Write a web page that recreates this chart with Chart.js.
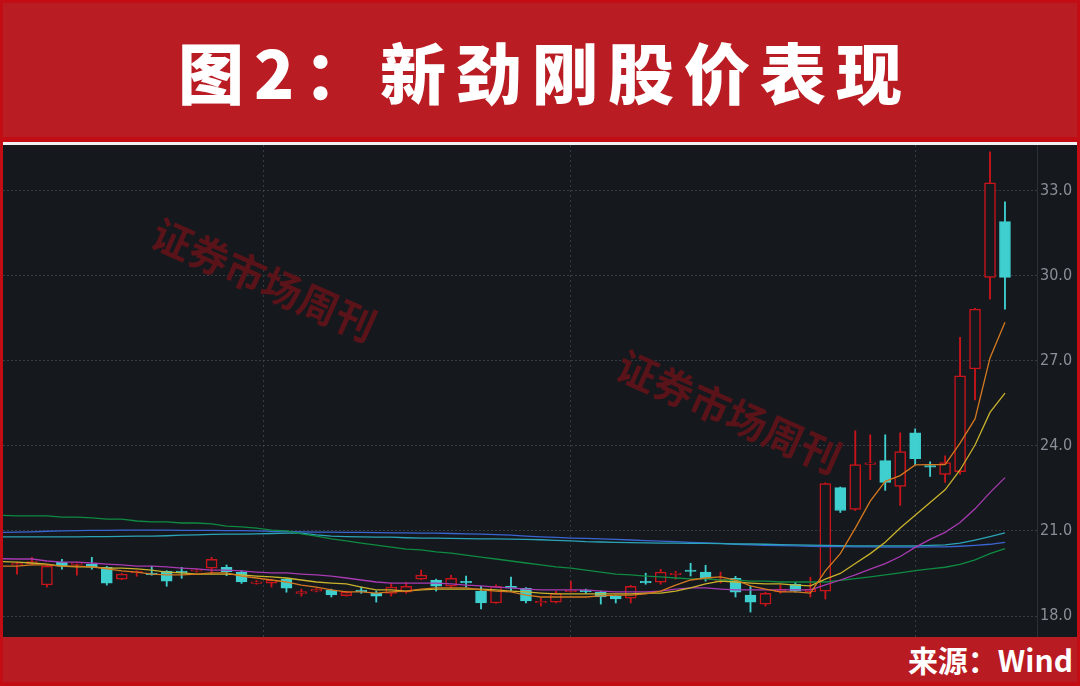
<!DOCTYPE html>
<html>
<head>
<meta charset="utf-8">
<script src="https://cdn.jsdelivr.net/npm/chart.js@4.4.1/dist/chart.umd.min.js"></script>
<style>
html,body{margin:0;padding:0;}
body{width:1080px;height:686px;background:#c20d14;position:relative;overflow:hidden;font-family:"Noto Sans CJK SC",sans-serif;}
#hdr{position:absolute;left:3px;top:3px;width:1074px;height:134px;background:#b91c22;}
#title{position:absolute;left:0;top:3px;width:1080px;height:134px;line-height:134px;text-align:center;color:#fff;font-size:66px;font-weight:900;letter-spacing:10px;padding-left:10px;box-sizing:border-box;white-space:nowrap;}
#wline{position:absolute;left:3px;top:141.5px;width:1074px;height:3px;background:#f2f2f2;}
#chartbox{position:absolute;left:3px;top:145px;width:1074px;height:492px;background:#15181d;}
#ftr{position:absolute;left:3px;top:637px;width:1074px;height:45px;background:#b81b21;}
#src{position:absolute;right:7px;top:637px;height:45px;line-height:45px;color:#fff;font-size:30px;font-weight:700;white-space:nowrap;}
</style>
</head>
<body>
<div id="hdr"></div>
<div id="title">图2：新劲刚股价表现</div>
<div id="wline"></div>
<div id="chartbox"><canvas id="c"></canvas></div>
<div id="ftr"></div>
<div id="src">来源：Wind</div>
<script>
// ---- data (day 0 is the partially hidden day at the left edge) ----
const openP  = [null,
  19.80,19.85,19.10,19.90,19.82,19.83,19.72,19.30,19.52,19.50,
  19.58,19.55,19.58,19.69,19.72,19.55,19.15,19.16,19.30,18.80,
  18.88,18.91,18.72,18.90,18.80,18.80,18.84,19.30,19.26,19.05,
  19.20,18.88,18.46,19.05,18.98,18.46,18.49,18.86,18.90,18.84,
  18.70,18.63,19.20,19.19,19.46,19.60,19.55,19.20,19.33,18.74,
  18.42,18.85,19.12,18.86,18.88,22.53,21.76,23.35,23.48,22.57,
  24.46,23.30,22.99,23.09,26.71,29.94,31.91];
const highP  = [null,
  19.90,20.07,19.80,20.00,19.90,20.07,19.75,19.50,19.60,19.76,
  19.60,19.72,19.65,20.07,19.80,19.60,19.25,19.30,19.32,18.95,
  18.98,18.95,18.88,19.02,18.88,19.16,19.19,19.62,19.30,19.44,
  19.41,19.05,19.10,19.37,19.00,18.63,18.88,19.23,18.95,18.88,
  18.72,19.08,19.51,19.65,19.58,19.86,19.79,19.55,19.40,19.05,
  18.84,19.10,19.19,19.37,22.70,22.55,24.53,24.39,24.39,24.46,
  24.60,23.44,23.65,27.83,28.85,34.37,32.61];
const lowP   = [null,
  19.48,19.80,19.02,19.65,19.44,19.65,19.09,19.28,19.40,19.44,
  19.05,19.33,19.55,19.48,19.42,19.15,19.12,19.02,18.84,18.70,
  18.85,18.67,18.70,18.80,18.49,18.70,18.80,19.28,18.88,19.00,
  19.02,18.25,18.44,18.88,18.46,18.35,18.46,18.84,18.80,18.42,
  18.46,18.46,19.12,19.12,19.30,19.41,19.23,19.16,18.67,18.14,
  18.35,18.80,18.84,18.67,18.60,21.65,21.72,22.81,22.43,21.90,
  23.34,22.92,22.71,23.00,25.62,29.17,28.82];
const closeP = [null,
  19.84,19.92,19.76,19.76,19.84,19.72,19.16,19.48,19.56,19.46,
  19.23,19.53,19.62,20.00,19.56,19.20,19.20,19.26,18.98,18.86,
  18.95,18.74,18.84,18.86,18.70,19.02,19.05,19.44,19.05,19.33,
  19.17,18.46,19.05,18.98,18.53,18.52,18.80,18.90,18.86,18.67,
  18.60,19.05,19.17,19.55,19.50,19.57,19.33,19.30,18.84,18.49,
  18.80,18.95,18.88,18.95,22.67,21.72,23.34,23.38,22.71,23.80,
  23.55,23.25,23.41,26.47,28.82,33.28,29.94];

const ma5   = [19.76,
  19.76,19.80,19.80,19.76,19.76,19.73,19.66,19.59,19.55,19.48,
  19.45,19.45,19.48,19.52,19.52,19.41,19.34,19.27,19.20,19.09,
  19.02,18.92,18.85,18.85,18.81,18.85,18.88,18.95,18.99,18.99,
  18.99,18.92,18.88,18.85,18.74,18.67,18.67,18.67,18.67,18.71,
  18.74,18.74,18.78,18.88,19.09,19.27,19.34,19.38,19.27,19.06,
  18.95,18.85,18.85,18.81,19.59,20.20,21.10,22.05,22.75,22.95,
  23.33,23.34,23.34,24.10,24.95,27.10,28.36];
const ma10  = [19.92,
  19.90,19.87,19.83,19.76,19.73,19.73,19.69,19.69,19.66,19.62,
  19.55,19.52,19.48,19.48,19.48,19.45,19.41,19.38,19.34,19.27,
  19.20,19.16,19.13,19.02,18.92,18.92,18.88,18.92,18.95,18.95,
  18.95,18.95,18.92,18.88,18.85,18.81,18.78,18.78,18.78,18.78,
  18.78,18.78,18.81,18.81,18.88,18.99,19.13,19.23,19.20,19.16,
  19.13,19.13,19.09,19.06,19.30,19.50,19.85,20.20,20.60,21.10,
  21.55,22.00,22.45,23.15,24.03,25.18,25.86];
const ma20  = [20.02,
  20.01,20.01,19.94,19.90,19.90,19.87,19.83,19.80,19.76,19.76,
  19.73,19.69,19.66,19.62,19.62,19.59,19.55,19.52,19.52,19.48,
  19.45,19.41,19.34,19.27,19.20,19.16,19.16,19.16,19.16,19.13,
  19.09,19.06,19.02,18.99,18.95,18.92,18.92,18.92,18.92,18.88,
  18.85,18.85,18.85,18.88,18.95,18.99,18.99,18.95,18.92,18.92,
  18.92,18.92,18.92,18.92,19.10,19.27,19.45,19.65,19.85,20.10,
  20.42,20.70,20.95,21.30,21.78,22.35,22.88];
const ma60  = [21.55,
  21.53,21.53,21.53,21.49,21.49,21.46,21.42,21.42,21.35,21.32,
  21.32,21.28,21.28,21.25,21.17,21.14,21.10,21.03,21.00,20.90,
  20.82,20.72,20.65,20.57,20.50,20.43,20.36,20.33,20.26,20.22,
  20.15,20.08,20.01,19.94,19.87,19.80,19.73,19.69,19.62,19.55,
  19.48,19.45,19.41,19.38,19.34,19.31,19.31,19.27,19.27,19.23,
  19.23,19.20,19.20,19.20,19.20,19.26,19.32,19.38,19.45,19.52,
  19.60,19.66,19.72,19.82,19.98,20.20,20.38];
const ma120 = [20.79,
  20.79,20.79,20.79,20.79,20.79,20.80,20.80,20.81,20.82,20.82,
  20.83,20.85,20.86,20.88,20.89,20.89,20.90,20.91,20.92,20.92,
  20.86,20.82,20.80,20.79,20.78,20.78,20.76,20.75,20.75,20.74,
  20.73,20.72,20.72,20.71,20.70,20.69,20.67,20.65,20.62,20.61,
  20.60,20.59,20.58,20.57,20.57,20.56,20.56,20.55,20.54,20.54,
  20.53,20.52,20.51,20.50,20.49,20.48,20.47,20.47,20.47,20.47,
  20.47,20.49,20.51,20.57,20.68,20.80,20.93];
const ma250 = [20.95,
  20.96,20.97,20.99,21.00,21.01,21.02,21.02,21.03,21.03,21.03,
  21.03,21.02,21.02,21.02,21.01,21.01,21.00,20.99,20.98,20.97,
  20.96,20.96,20.95,20.95,20.94,20.93,20.93,20.92,20.92,20.91,
  20.90,20.89,20.87,20.85,20.82,20.79,20.77,20.75,20.74,20.72,
  20.70,20.68,20.66,20.64,20.62,20.60,20.58,20.56,20.53,20.51,
  20.49,20.48,20.47,20.46,20.45,20.45,20.44,20.44,20.43,20.43,
  20.43,20.44,20.44,20.46,20.49,20.53,20.60];

const yTicks = [18, 21, 24, 27, 30, 33];
const monthLines = [17.45, 38.0, 61.05];
const watermarkText = '证券市场周刊';

// ---- styles ----
const RED = '#c8141b', CYAN = '#3fcfcf', BG = '#15181d';
const GRID = 'rgba(66,72,80,0.75)';
const days = openP.map((_, i) => i);
const isUp = i => closeP[i] >= openP[i];

const wickData = days.filter(i => openP[i] !== null).map(i => ({x: i, y: [lowP[i], highP[i]]}));
const bodyData = days.filter(i => openP[i] !== null).map(i => ({x: i, y: [Math.min(openP[i], closeP[i]), Math.max(openP[i], closeP[i])]}));

function lineDs(arr, color) {
  return {type: 'line', data: days.map(i => ({x: i, y: arr[i]})), borderColor: color, borderWidth: 1.3,
    pointRadius: 0, tension: 0, fill: false, order: 0};
}

const watermark = {
  id: 'watermark',
  beforeDatasetsDraw(chart) {
    const c = chart.ctx;
    const spots = [[261, 135], [726, 267]];
    c.save();
    c.font = 'bold 40px "Noto Sans CJK SC", sans-serif';
    c.fillStyle = '#5a1419';
    c.textAlign = 'center';
    c.textBaseline = 'middle';
    for (const [x, y] of spots) {
      c.save();
      c.translate(x, y);
      c.rotate(24 * Math.PI / 180);
      c.fillText(watermarkText, 0, 0);
      c.restore();
    }
    c.restore();
  }
};

new Chart(document.getElementById('c'), {
  type: 'bar',
  data: {
    datasets: [
      lineDs(ma5, '#d4791f'),
      lineDs(ma10, '#c9b22c'),
      lineDs(ma20, '#a83ab2'),
      lineDs(ma60, '#0f8a42'),
      lineDs(ma120, '#2ba3b6'),
      lineDs(ma250, '#3a66d2'),
      {
        type: 'bar', data: bodyData, order: 1, grouped: false, barThickness: 11, minBarLength: 1.5,
        borderSkipped: false,
        backgroundColor: ctx => isUp(ctx.raw.x) ? BG : CYAN,
        borderColor: ctx => isUp(ctx.raw.x) ? RED : CYAN,
        borderWidth: ctx => isUp(ctx.raw.x) ? 1.5 : 1
      },
      {
        type: 'bar', data: wickData, order: 2, grouped: false, barThickness: 1.2, minBarLength: 1,
        borderWidth: 0,
        backgroundColor: ctx => isUp(ctx.raw.x) ? RED : CYAN
      }
    ]
  },
  options: {
    responsive: true,
    maintainAspectRatio: false,
    animation: false,
    layout: {padding: 0},
    plugins: {legend: {display: false}, tooltip: {enabled: false}},
    scales: {
      x: {
        type: 'linear', min: 0.065, max: 69.14, offset: false,
        afterBuildTicks: s => { s.ticks = monthLines.map(v => ({value: v})); },
        ticks: {display: false},
        grid: {color: GRID, drawTicks: false, offset: false},
        border: {display: false, dash: [2, 3]},
        afterFit: s => { s.height = 0; s.paddingLeft = 0; s.paddingRight = 0; }
      },
      y: {
        position: 'right', min: 17.26, max: 34.61,
        afterBuildTicks: s => { s.ticks = yTicks.map(v => ({value: v})); },
        ticks: {
          color: '#8a8f97', padding: 3, crossAlign: 'near',
          font: {family: '"Liberation Sans Narrow", "DejaVu Sans Condensed", sans-serif', size: 16},
          callback: v => Number(v).toFixed(1)
        },
        grid: {color: GRID, drawTicks: false},
        border: {display: true, color: '#2c3037', dash: [2, 2]},
        afterFit: s => { s.width = 40; s.paddingTop = 0; s.paddingBottom = 0; }
      }
    }
  },
  plugins: [watermark]
});
</script>
</body>
</html>
